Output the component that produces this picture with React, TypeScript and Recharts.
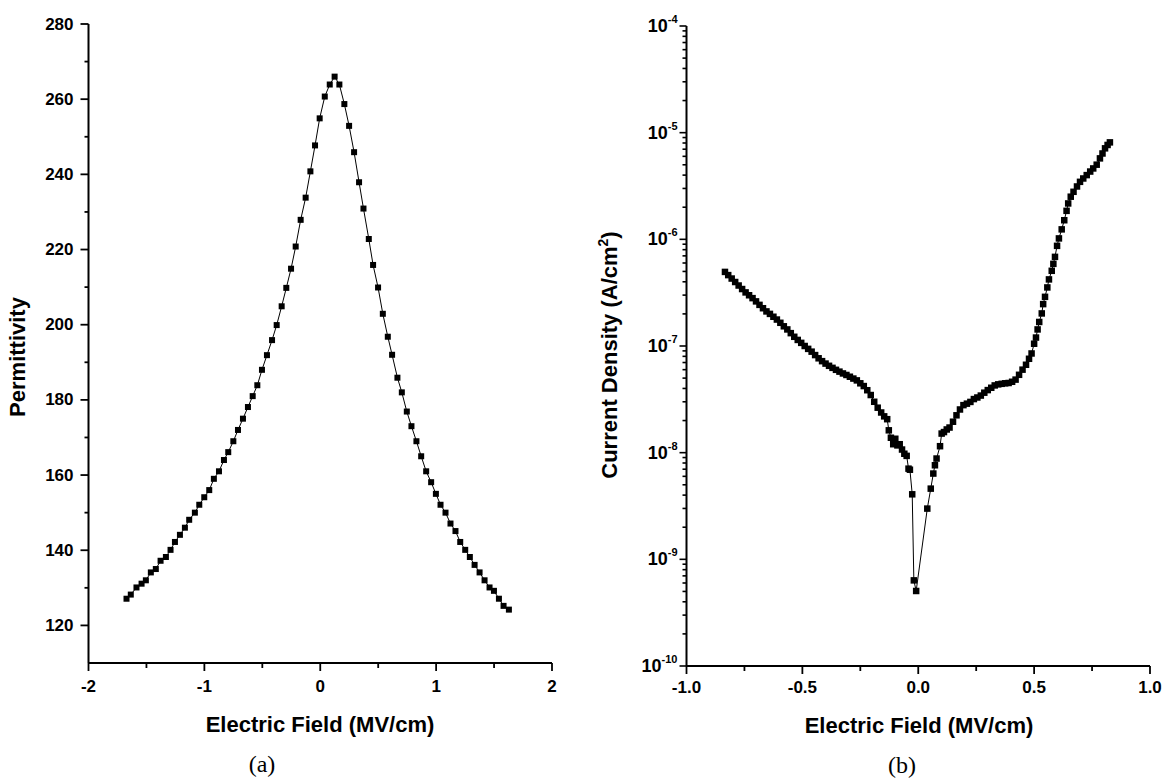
import React from 'react';
import { LineChart, Line, XAxis, YAxis } from 'recharts';

// ---------- (a) Permittivity vs Electric Field ----------
const fieldA = [
  -1.672, -1.635, -1.586, -1.542, -1.505, -1.462, -1.419, -1.378, -1.332, -1.292,
  -1.254, -1.211, -1.168, -1.131, -1.082, -1.044, -1.001, -0.958, -0.918, -0.874,
  -0.831, -0.794, -0.75, -0.71, -0.667, -0.624, -0.583, -0.543, -0.503, -0.46,
  -0.416, -0.376, -0.333, -0.293, -0.252, -0.212, -0.169, -0.126, -0.085, -0.045,
  -0.005, 0.039, 0.082, 0.124, 0.165, 0.208, 0.249, 0.292, 0.335, 0.373,
  0.419, 0.456, 0.499, 0.54, 0.583, 0.62, 0.666, 0.704, 0.747, 0.787,
  0.83, 0.871, 0.914, 0.957, 0.998, 1.038, 1.081, 1.124, 1.167, 1.208,
  1.251, 1.291, 1.332, 1.375, 1.418, 1.461, 1.499, 1.542, 1.582, 1.628,
];
const permittivity = [
  127.1, 128.2, 130.1, 131.1, 132.0, 134.1, 135.0, 137.2, 138.2, 140.1,
  142.2, 144.1, 146.0, 148.1, 150.0, 152.1, 154.1, 156.0, 159.0, 161.0,
  164.0, 166.1, 169.0, 172.0, 175.0, 178.1, 181.0, 183.9, 188.0, 191.9,
  195.9, 199.9, 204.9, 209.8, 214.9, 220.8, 227.9, 233.8, 240.8, 247.7,
  254.9, 260.7, 263.9, 266.0, 263.9, 258.7, 252.9, 245.9, 237.9, 230.9,
  222.8, 215.9, 209.9, 202.9, 196.8, 192.0, 185.9, 182.0, 176.9, 173.0,
  169.0, 165.0, 161.0, 158.1, 155.0, 152.1, 150.0, 147.1, 145.1, 142.2,
  140.1, 138.2, 136.1, 134.1, 132.0, 130.1, 129.2, 127.1, 125.2, 124.2,
];

// ---------- (b) Current density vs Electric Field ----------
const fieldB = [
  -0.834, -0.82, -0.805, -0.79, -0.775, -0.76, -0.745, -0.73, -0.715, -0.7,
  -0.685, -0.67, -0.655, -0.64, -0.625, -0.61, -0.595, -0.58, -0.565, -0.55,
  -0.535, -0.52, -0.505, -0.49, -0.475, -0.46, -0.445, -0.43, -0.415, -0.4,
  -0.385, -0.37, -0.355, -0.34, -0.325, -0.31, -0.295, -0.28, -0.265, -0.25,
  -0.235, -0.22, -0.205, -0.19, -0.175, -0.16, -0.147,
  -0.134, -0.127, -0.118, -0.108, -0.099, -0.09, -0.08, -0.07, -0.06, -0.05,
  -0.042, -0.036, -0.026, -0.019, -0.009,
  0.039, 0.054, 0.065, 0.072, 0.079, 0.094, 0.101, 0.111, 0.123,
  0.135, 0.15, 0.165, 0.18, 0.195, 0.21, 0.225, 0.24, 0.255, 0.27,
  0.285, 0.3, 0.315, 0.33, 0.345, 0.36, 0.375, 0.39, 0.405, 0.42,
  0.435, 0.45, 0.465, 0.478, 0.489,
  0.5, 0.508, 0.515, 0.522, 0.533, 0.539, 0.547, 0.557, 0.564, 0.576,
  0.583, 0.59, 0.599, 0.607, 0.619, 0.63, 0.64, 0.647, 0.658,
  0.67, 0.685, 0.698, 0.712, 0.727, 0.742, 0.755, 0.77, 0.784, 0.795,
  0.806, 0.817, 0.827,
];
const currentDensity = [
  4.95e-7, 4.62e-7, 4.29e-7, 3.98e-7, 3.69e-7, 3.42e-7, 3.18e-7, 2.99e-7, 2.81e-7, 2.62e-7,
  2.43e-7, 2.26e-7, 2.11e-7, 2.0e-7, 1.88e-7, 1.77e-7, 1.65e-7, 1.53e-7, 1.43e-7, 1.32e-7,
  1.22e-7, 1.14e-7, 1.07e-7, 1.0e-7, 9.4e-8, 8.85e-8, 8.22e-8, 7.67e-8, 7.21e-8, 6.84e-8,
  6.52e-8, 6.24e-8, 5.98e-8, 5.75e-8, 5.53e-8, 5.35e-8, 5.15e-8, 4.95e-8, 4.76e-8, 4.47e-8,
  4.21e-8, 3.85e-8, 3.47e-8, 3.0e-8, 2.64e-8, 2.38e-8, 2.19e-8,
  2.06e-8, 1.62e-8, 1.38e-8, 1.2e-8, 1.35e-8, 1.17e-8, 1.2e-8, 1.07e-8, 9.77e-9, 9.33e-9,
  7.08e-9, 6.92e-9, 4.07e-9, 6.35e-10, 5.05e-10,
  2.99e-9, 4.6e-9, 6.37e-9, 7.62e-9, 8.81e-9, 1.15e-8, 1.51e-8, 1.56e-8, 1.65e-8,
  1.72e-8, 1.95e-8, 2.24e-8, 2.54e-8, 2.79e-8, 2.88e-8, 2.99e-8, 3.18e-8, 3.29e-8, 3.43e-8,
  3.65e-8, 3.86e-8, 4.06e-8, 4.27e-8, 4.37e-8, 4.42e-8, 4.47e-8, 4.5e-8, 4.62e-8, 4.84e-8,
  5.37e-8, 6.0e-8, 6.67e-8, 7.59e-8, 8.51e-8,
  1.05e-7, 1.2e-7, 1.43e-7, 1.68e-7, 2.02e-7, 2.47e-7, 2.89e-7, 3.54e-7, 4.21e-7, 5.07e-7,
  5.89e-7, 6.85e-7, 8.69e-7, 1.02e-6, 1.24e-6, 1.51e-6, 1.85e-6, 2.17e-6, 2.51e-6,
  2.79e-6, 3.13e-6, 3.46e-6, 3.72e-6, 4.0e-6, 4.32e-6, 4.62e-6, 5.01e-6, 5.74e-6, 6.38e-6,
  7.13e-6, 7.67e-6, 8.11e-6,
];

// ---------- ticks ----------
const xTicksA = [-2, -1.5, -1, -0.5, 0, 0.5, 1, 1.5, 2];
const yTicksA = [120, 130, 140, 150, 160, 170, 180, 190, 200, 210, 220, 230, 240, 250, 260, 270, 280];
const xTicksB = [-1, -0.75, -0.5, -0.25, 0, 0.25, 0.5, 0.75, 1];
const decadesB = [-10, -9, -8, -7, -6, -5];
const mantissas = [1, 2, 3, 4, 5, 6, 7, 8, 9];
const yTicksB: number[] = [];
decadesB.forEach((e) => mantissas.forEach((m) => yTicksB.push(Number(`${m}e${e}`))));
yTicksB.push(1e-4);

const dataA = fieldA.map((x, i) => ({ x, y: permittivity[i] }));
const dataB = fieldB.map((x, i) => ({ x, y: currentDensity[i] }));

const FONT = "'Liberation Sans', Arial, Helvetica, sans-serif";
const SERIF = "'Liberation Serif', 'Times New Roman', Times, serif";

const XTickA = (p: any) => {
  const { x, y, payload } = p;
  const v = payload.value;
  const major = Number.isInteger(v);
  return (
    <g>
      <line x1={x} x2={x} y1={y} y2={y + (major ? 8 : 5)} stroke="#000" strokeWidth={1.8} />
      {major && (
        <text x={x} y={y + 23} textAnchor="middle" dominantBaseline="central" fontFamily={FONT} fontWeight="bold" fontSize={17} fill="#000">
          {String(v)}
        </text>
      )}
    </g>
  );
};

const YTickA = (p: any) => {
  const { x, y, payload } = p;
  const v = payload.value;
  const major = v % 20 === 0;
  return (
    <g>
      <line x1={x - (major ? 8 : 4)} x2={x} y1={y} y2={y} stroke="#000" strokeWidth={1.8} />
      {major && (
        <text x={x - 15} y={y} textAnchor="end" dominantBaseline="central" fontFamily={FONT} fontWeight="bold" fontSize={17} fill="#000">
          {String(v)}
        </text>
      )}
    </g>
  );
};

const XTickB = (p: any) => {
  const { x, y, payload } = p;
  const v = payload.value;
  const major = Math.abs(v * 2 - Math.round(v * 2)) < 1e-9;
  return (
    <g>
      <line x1={x} x2={x} y1={y} y2={y + (major ? 8 : 5)} stroke="#000" strokeWidth={1.8} />
      {major && (
        <text x={x} y={y + 21} textAnchor="middle" dominantBaseline="central" fontFamily={FONT} fontWeight="bold" fontSize={17} fill="#000">
          {v.toFixed(1)}
        </text>
      )}
    </g>
  );
};

const YTickB = (p: any) => {
  const { x, y, payload } = p;
  const v = payload.value;
  const lg = Math.log10(v);
  const major = Math.abs(lg - Math.round(lg)) < 1e-6;
  return (
    <g>
      <line x1={x - (major ? 7 : 4)} x2={x} y1={y} y2={y} stroke="#000" strokeWidth={1.6} />
      {major && (
        <text x={x - 9} y={y} textAnchor="end" dominantBaseline="central" fontFamily={FONT} fontWeight="bold" fontSize={18} fill="#000">
          <tspan>10</tspan>
          <tspan fontSize={11} dy={-7}>{String(Math.round(lg))}</tspan>
        </text>
      )}
    </g>
  );
};

const square = (size: number) => (p: any) => {
  const { cx, cy, index } = p;
  if (cx == null || cy == null) return <g key={`d${index}`} />;
  return <rect key={`d${index}`} x={cx - size / 2} y={cy - size / 2} width={size} height={size} fill="#000" />;
};

const axisLine = { stroke: '#000', strokeWidth: 2 };

export default function App() {
  return (
    <div style={{ position: 'absolute', left: 0, top: 0, width: 1166, height: 780, background: '#fff', overflow: 'hidden' }}>
      <div style={{ position: 'absolute', left: 0, top: 0 }}>
        <LineChart width={580} height={780} data={dataA} margin={{ top: 24, right: 28, bottom: 0, left: 0 }}>
          <XAxis
            type="number"
            dataKey="x"
            domain={[-2, 2]}
            ticks={xTicksA}
            interval={0}
            height={117}
            tickSize={0}
            tickMargin={0}
            tickLine={false}
            axisLine={axisLine}
            tick={(p: any) => <XTickA {...p} />}
          />
          <YAxis
            type="number"
            domain={[110, 280]}
            ticks={yTicksA}
            interval={0}
            width={88.5}
            tickSize={0}
            tickMargin={0}
            tickLine={false}
            axisLine={axisLine}
            tick={(p: any) => <YTickA {...p} />}
          />
          <Line
            type="linear"
            dataKey="y"
            stroke="#000"
            strokeWidth={1}
            dot={square(6)}
            activeDot={false}
            isAnimationActive={false}
          />
        </LineChart>
      </div>
      <div style={{ position: 'absolute', left: 580, top: 0 }}>
        <LineChart width={586} height={780} data={dataB} margin={{ top: 26, right: 16, bottom: 0, left: 0 }}>
          <XAxis
            type="number"
            dataKey="x"
            domain={[-1, 1]}
            ticks={xTicksB}
            interval={0}
            height={114}
            tickSize={0}
            tickMargin={0}
            tickLine={false}
            axisLine={axisLine}
            tick={(p: any) => <XTickB {...p} />}
          />
          <YAxis
            type="number"
            scale="log"
            domain={[1e-10, 1e-4]}
            allowDataOverflow
            ticks={yTicksB}
            interval={0}
            width={106.5}
            tickSize={0}
            tickMargin={0}
            tickLine={false}
            axisLine={axisLine}
            tick={(p: any) => <YTickB {...p} />}
          />
          <Line
            type="linear"
            dataKey="y"
            stroke="#000"
            strokeWidth={1}
            dot={square(6.5)}
            activeDot={false}
            isAnimationActive={false}
          />
        </LineChart>
      </div>
      <svg width={1166} height={780} style={{ position: 'absolute', left: 0, top: 0, pointerEvents: 'none' }}>
        <text x={320} y={732} textAnchor="middle" fontFamily={FONT} fontWeight="bold" fontSize={22} fill="#000">
          Electric Field (MV/cm)
        </text>
        <text transform="translate(24.5,357) rotate(-90)" textAnchor="middle" fontFamily={FONT} fontWeight="bold" fontSize={22} fill="#000">
          Permittivity
        </text>
        <text x={262} y={772} textAnchor="middle" fontFamily={SERIF} fontSize={24} fill="#000">
          (a)
        </text>
        <text x={919} y={733} textAnchor="middle" fontFamily={FONT} fontWeight="bold" fontSize={22} fill="#000">
          Electric Field (MV/cm)
        </text>
        <text transform="translate(617,355) rotate(-90)" textAnchor="middle" fontFamily={FONT} fontWeight="bold" fontSize={22} fill="#000">
          <tspan>Current Density (A/cm</tspan>
          <tspan fontSize={14} dy={-9}>2</tspan>
          <tspan dy={9}>)</tspan>
        </text>
        <text x={902} y={773} textAnchor="middle" fontFamily={SERIF} fontSize={24} fill="#000">
          (b)
        </text>
      </svg>
    </div>
  );
}
